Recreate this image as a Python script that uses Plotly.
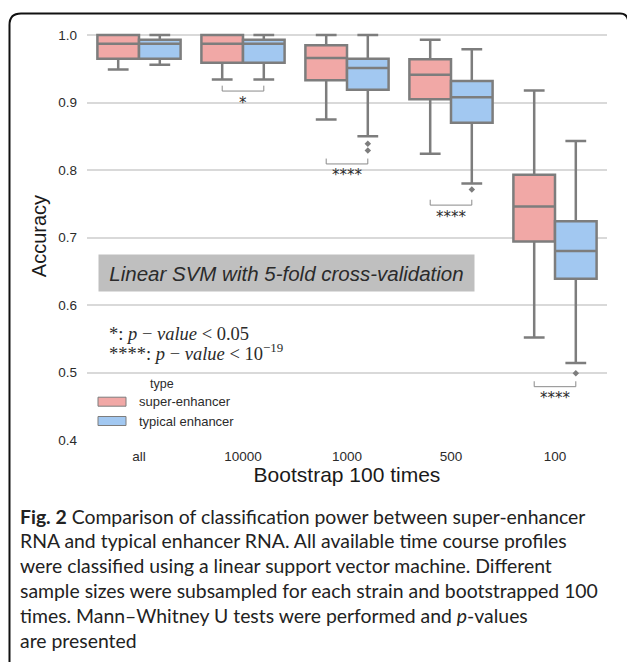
import plotly.graph_objects as go

# ---------------- data ----------------
categories = ["all", "10000", "1000", "500", "100"]
groups = ["super-enhancer", "typical enhancer"]

se_q1 = [0.965, 0.959, 0.933, 0.905, 0.694]
se_median = [0.987, 0.987, 0.966, 0.941, 0.746]
se_q3 = [1.000, 1.000, 0.985, 0.964, 0.793]
se_lower = [0.949, 0.934, 0.875, 0.824, 0.552]
se_upper = [1.000, 1.000, 1.000, 0.993, 0.918]

te_q1 = [0.965, 0.959, 0.919, 0.870, 0.639]
te_median = [0.987, 0.987, 0.951, 0.908, 0.680]
te_q3 = [0.993, 0.993, 0.965, 0.932, 0.724]
te_lower = [0.956, 0.934, 0.850, 0.780, 0.514]
te_upper = [1.000, 1.000, 1.000, 0.979, 0.843]

te_outlier_cat = ["1000", "1000", "500", "100"]
te_outlier_val = [0.839, 0.829, 0.771, 0.499]

sig_cat = ["10000", "1000", "500", "100"]
sig_label = ["*", "****", "****", "****"]
sig_level = [0.917, 0.809, 0.748, 0.479]

y_ticks = [0.4, 0.5, 0.6, 0.7, 0.8, 0.9, 1.0]

caption_lines = [
    "<b>Fig. 2</b> Comparison of classification power between super-enhancer",
    "RNA and typical enhancer RNA. All available time course profiles",
    "were classified using a linear support vector machine. Different",
    "sample sizes were subsampled for each strain and bootstrapped 100",
    "times. Mann\u2013Whitney U tests were performed and <i>p</i>-values",
    "are presented",
]

# ---------------- style / layout ----------------
W, H = 627, 662
L, R, T, B = 87, 607, 32, 440
PINK = "#f1a8a6"
BLUE = "#a2c8f1"
GRAY = "#7d7d7d"
TXT = "#2b2b2b"
SANS = "Liberation Sans, Arial, sans-serif"
HALF = 0.2          # offset of each hue box from category centre
BOXW = 0.4


def fx(px):
    return (px - L) / (R - L)


def fy(py):
    return (B - py) / (B - T)


pos = {c: i for i, c in enumerate(categories)}

fig = go.Figure()

stats = [
    (groups[0], -HALF, se_q1, se_median, se_q3, se_lower, se_upper, PINK),
    (groups[1], +HALF, te_q1, te_median, te_q3, te_lower, te_upper, BLUE),
]
for name, off, q1, med, q3, lo, hi, col in stats:
    fig.add_trace(go.Box(
        name=name,
        x=[pos[c] + off for c in categories],
        q1=q1, median=med, q3=q3, lowerfence=lo, upperfence=hi,
        width=BOXW, whiskerwidth=0.5,
        fillcolor=col, line=dict(color=GRAY, width=2.5),
        boxpoints=False, showlegend=False, hoverinfo="skip",
    ))

# outliers (typical enhancer)
fig.add_trace(go.Scatter(
    x=[pos[c] + HALF for c in te_outlier_cat], y=te_outlier_val,
    mode="markers", marker=dict(symbol="diamond", size=5, color=GRAY),
    showlegend=False, hoverinfo="skip",
))

# significance brackets
bx, by = [], []
tick_h = 0.008
for c, lev in zip(sig_cat, sig_level):
    i = pos[c]
    bx += [i - HALF, i - HALF, i + HALF, i + HALF, None]
    by += [lev + tick_h, lev, lev, lev + tick_h, None]
fig.add_trace(go.Scatter(
    x=bx, y=by, mode="lines", line=dict(color="#8a8a8a", width=1),
    showlegend=False, hoverinfo="skip",
))

annotations = []
for c, lab, lev in zip(sig_cat, sig_label, sig_level):
    annotations.append(dict(
        x=pos[c], y=lev - 0.017, xref="x", yref="y", text=lab,
        showarrow=False, xanchor="center", yanchor="middle",
        font=dict(family="DejaVu Sans", size=15, color=TXT),
    ))

# grey labelled box
annotations.append(dict(
    x=fx(286.5), y=fy(273), xref="paper", yref="paper",
    text="<i>Linear SVM with 5-fold cross-validation</i>",
    showarrow=False, xanchor="center", yanchor="middle",
    width=375, height=36, bgcolor="#bfbfbf", borderpad=0,
    font=dict(family=SANS, size=20.5, color=TXT),
))

# p-value key
key_lines = [
    "*: <i>p</i> \u2212 <i>value</i> < 0.05",
    "****: <i>p</i> \u2212 <i>value</i> < 10<sup>\u221219</sup>",
]
for k, t in enumerate(key_lines):
    annotations.append(dict(
        x=fx(107), y=fy(333.5 + 18.5 * k), xref="paper", yref="paper",
        text=t, showarrow=False, xanchor="left", yanchor="middle",
        font=dict(family="Liberation Serif, DejaVu Serif, serif", size=18.5, color=TXT),
    ))

# legend (custom)
annotations.append(dict(
    x=fx(162), y=fy(383.5), xref="paper", yref="paper", text="type",
    showarrow=False, xanchor="center", yanchor="middle",
    font=dict(family=SANS, size=12.5, color=TXT),
))
shapes = []
for k, (g, col) in enumerate(zip(groups, [PINK, BLUE])):
    yc = 401.7 + 19.3 * k
    shapes.append(dict(
        type="rect", xref="paper", yref="paper",
        x0=fx(98), x1=fx(126), y0=fy(yc - 4.5), y1=fy(yc + 4.5),
        fillcolor=col, line=dict(color=GRAY, width=1),
    ))
    annotations.append(dict(
        x=fx(136.5), y=fy(yc), xref="paper", yref="paper", text=g,
        showarrow=False, xanchor="left", yanchor="middle",
        font=dict(family=SANS, size=13, color=TXT),
    ))

# caption
for k, line in enumerate(caption_lines):
    annotations.append(dict(
        x=fx(18), y=fy(516 + 24.9 * k), xref="paper", yref="paper",
        text=line, showarrow=False, xanchor="left", yanchor="middle",
        font=dict(family="Lato, Liberation Sans, sans-serif", size=19.4, color="#222222"),
    ))

# figure frame (top & left border with rounded corners)
def P(px, py):
    return f"{fx(px):.5f},{fy(py):.5f}"

frame = (f"M{P(9.5, 662)} L{P(9.5, 25)} Q{P(9.5, 13.5)} {P(21, 13.5)} "
         f"L{P(620, 13.5)} Q{P(627, 13.5)} {P(628, 20)}")
shapes.append(dict(type="path", xref="paper", yref="paper", path=frame,
                   line=dict(color="#111111", width=2)))

fig.update_layout(
    width=W, height=H,
    margin=dict(l=L, r=W - R, t=T, b=H - B, autoexpand=False),
    paper_bgcolor="white", plot_bgcolor="white",
    font=dict(family=SANS, color=TXT),
    showlegend=False,
    annotations=annotations, shapes=shapes,
    xaxis=dict(
        range=[-0.5, 4.5], tickvals=list(range(len(categories))), ticktext=categories,
        showgrid=False, zeroline=False, showline=False, ticks="",
        ticklabelstandoff=6, tickfont=dict(size=13.5, color=TXT),
        title=dict(text="Bootstrap 100 times", font=dict(size=21, color="#1a1a1a"), standoff=4),
    ),
    yaxis=dict(
        range=[0.4, 1.0045], tickvals=y_ticks, ticktext=[f"{v:.1f}" for v in y_ticks],
        showgrid=True, gridcolor="#d9d9d9", gridwidth=1.5,
        zeroline=False, showline=False, ticks="",
        ticklabelstandoff=9, tickfont=dict(size=13.5, color=TXT),
        title=dict(text="Accuracy", font=dict(size=20, color="#1a1a1a"), standoff=6),
    ),
)

fig.write_html("out.html")
